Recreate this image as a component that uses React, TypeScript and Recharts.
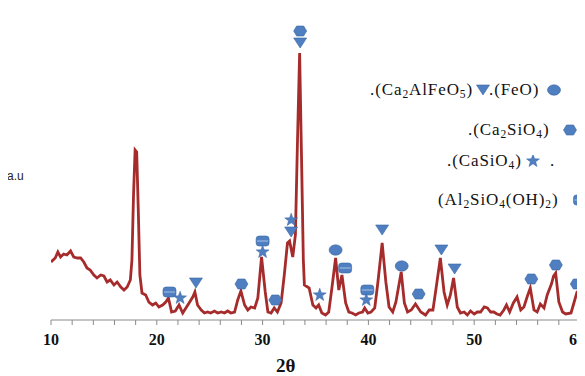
import React from 'react';
import { ComposedChart, Line, Scatter, XAxis, YAxis } from 'recharts';

// XRD pattern (2θ in degrees, intensity in arbitrary units)
const twoTheta = [
  10.0, 10.4, 10.65, 10.9, 11.2, 11.5, 11.85, 12.15, 12.5, 12.8, 13.1, 13.4, 13.7, 14.05, 14.35, 14.7,
  15.0, 15.3, 15.6, 15.95, 16.25, 16.6, 16.9, 17.2, 17.5, 17.65, 17.8, 17.95, 18.1, 18.25, 18.4, 18.6, 18.95,
  19.25, 19.6, 19.9, 20.2, 20.55, 20.85, 21.1, 21.4, 21.75, 22.1, 22.45, 22.75, 23.05, 23.4, 23.6, 23.85,
  24.2, 24.5, 24.8, 25.1, 25.45, 25.75, 26.1, 26.4, 26.7, 27.0, 27.35, 27.65, 27.95, 28.3, 28.6, 28.9,
  29.25, 29.55, 29.9, 30.25, 30.5, 30.8, 31.1, 31.4, 31.75, 32.05, 32.35, 32.55, 32.85, 33.1, 33.3, 33.5,
  33.7, 33.85, 33.95, 34.25, 34.4, 34.75, 35.05, 35.3, 35.6, 35.95, 36.25, 36.55, 36.9, 37.2, 37.5, 37.85,
  38.15, 38.45, 38.8, 39.1, 39.45, 39.65, 39.95, 40.25, 40.6, 40.9, 41.3, 41.65, 41.95, 42.3, 42.6, 43.1,
  43.4, 43.7, 44.05, 44.45, 44.95, 45.4, 45.75, 46.1, 46.4, 46.8, 47.15, 47.45, 47.75, 48.05, 48.4, 48.7,
  49.05, 49.35, 49.65, 50.0, 50.3, 50.6, 50.95, 51.25, 51.55, 51.85, 52.15, 52.45, 52.8, 53.05, 53.35, 53.7,
  54.05, 54.4, 54.7, 55.0, 55.3, 55.65, 55.95, 56.25, 56.6, 56.9, 57.3, 57.5, 57.7, 58.0, 58.35, 58.65,
  59.15, 59.45, 59.75,
];
const intensity = [
  58, 62, 68, 63, 66, 65, 69, 63, 62, 62, 58, 52, 50, 45, 42, 45,
  44, 38, 40, 35, 38, 33, 30, 33, 40, 60, 125, 170, 168, 110, 45, 27, 25,
  18, 15, 17, 13, 15, 18, 22, 8, 9, 15, 7, 12, 17, 23, 28, 15,
  10, 7, 8, 7, 9, 7, 8, 7, 9, 7, 8, 20, 29, 15, 10, 13,
  12, 22, 63, 28, 8, 7, 12, 8, 17, 45, 77, 79, 63, 85, 180, 267,
  150, 60, 35, 33, 32, 15, 12, 15, 7, 5, 8, 32, 62, 30, 45, 17,
  8, 7, 5, 7, 8, 12, 7, 8, 12, 38, 77, 38, 13, 8, 18, 48,
  17, 8, 10, 16, 8, 5, 10, 10, 32, 62, 28, 15, 25, 42, 13, 7,
  8, 5, 9, 6, 8, 8, 13, 12, 8, 8, 6, 5, 10, 15, 8, 17,
  23, 10, 13, 23, 32, 10, 8, 16, 12, 25, 36, 44, 47, 18, 8, 6,
  7, 18, 29,
];

// phase markers
const triangleX = [23.7, 32.7, 33.55, 41.3, 46.9, 48.15];
const triangleY = [37, 88, 277, 90, 70, 51];
const hexX = [28.0, 31.2, 33.55, 44.75, 55.4, 57.72, 59.7];
const hexY = [36, 20, 289, 26, 41, 55, 36];
const ellipseX = [36.9, 43.15];
const ellipseY = [70, 54];
const rectX = [21.2, 30.0, 37.8, 39.9];
const rectY = [28, 79, 52, 30];
const starX = [22.2, 30.0, 32.7, 35.4, 39.8];
const starY = [22, 68, 100, 25, 20];

const xTicks = [10, 12, 14, 16, 18, 20, 22, 24, 26, 28, 30, 32, 34, 36, 38, 40, 42, 44, 46, 48, 50, 52, 54, 56, 58, 60];

const pattern = twoTheta.map((x, i) => ({ x, y: intensity[i] }));
const pts = (xs: number[], ys: number[]) => xs.map((x, i) => ({ x, y: ys[i] }));

const BLUE = '#4f7fc0';
const EDGE = '#3b67a3';

const Tri = ({ cx, cy }: any) => (
  <polygon points={`${cx - 6.5},${cy - 5} ${cx + 6.5},${cy - 5} ${cx},${cy + 5}`} fill={BLUE} stroke={EDGE} strokeWidth={0.6} />
);
const Hex = ({ cx, cy }: any) => (
  <polygon
    points={`${cx - 6.5},${cy} ${cx - 3.5},${cy - 5} ${cx + 3.5},${cy - 5} ${cx + 6.5},${cy} ${cx + 3.5},${cy + 5} ${cx - 3.5},${cy + 5}`}
    fill={BLUE}
    stroke={EDGE}
    strokeWidth={0.6}
  />
);
const Ell = ({ cx, cy }: any) => <ellipse cx={cx} cy={cy} rx={6.5} ry={5.2} fill={BLUE} stroke={EDGE} strokeWidth={0.6} />;
const Box = ({ cx, cy }: any) => (
  <g>
    <rect x={cx - 6.5} y={cy - 5} width={13} height={10} rx={3} fill={BLUE} stroke={EDGE} strokeWidth={0.6} />
    <line x1={cx - 5.5} x2={cx + 5.5} y1={cy} y2={cy} stroke="#a9c3e6" strokeWidth={1} />
  </g>
);
const starPoints = (cx: number, cy: number, ro: number, ri: number) => {
  const p: string[] = [];
  for (let i = 0; i < 10; i++) {
    const r = i % 2 === 0 ? ro : ri;
    const a = -Math.PI / 2 + (i * Math.PI) / 5;
    p.push(`${cx + r * Math.cos(a)},${cy + r * Math.sin(a)}`);
  }
  return p.join(' ');
};
const Star = ({ cx, cy }: any) => <polygon points={starPoints(cx, cy, 6.8, 2.8)} fill={BLUE} stroke={EDGE} strokeWidth={0.5} />;

const XTick = ({ x, y, payload }: any) => {
  if (payload.value % 10 !== 0) return <g />;
  const last = payload.value === 60;
  return (
    <text
      x={last ? x + 5 : x}
      y={y + 18}
      textAnchor={last ? 'end' : 'middle'}
      fontFamily="Liberation Serif"
      fontWeight="bold"
      fontSize={16}
      fill="#111"
    >
      {payload.value}
    </text>
  );
};

const Icon = ({ children }: any) => (
  <svg width={14} height={12} style={{ display: 'block' }}>
    {children}
  </svg>
);

const serif: React.CSSProperties = {
  position: 'absolute',
  fontFamily: 'Liberation Serif',
  fontSize: 17,
  lineHeight: '17px',
  letterSpacing: 0.9,
  whiteSpace: 'nowrap',
  color: '#111',
};
const sub = (s: string) => <span style={{ fontSize: 11.5, position: 'relative', top: 3 }}>{s}</span>;
const at = (left: number, cy: number): React.CSSProperties => ({ ...serif, left: left - 8, top: cy - 8 - 9 });
const iconAt = (cx: number, cy: number): React.CSSProperties => ({ position: 'absolute', left: cx - 8 - 7, top: cy - 8 - 6 });

export default function App() {
  return (
    <div style={{ position: 'relative', width: 577, height: 368, overflow: 'hidden', background: '#fff' }}>
      <ComposedChart width={577} height={368} margin={{ top: 2, right: 5, bottom: 0, left: 43 }}>
        <XAxis
          type="number"
          dataKey="x"
          domain={[10, 60]}
          ticks={xTicks}
          interval={0}
          tick={<XTick />}
          tickSize={5}
          tickMargin={2}
          height={56}
          stroke="#8a8a8a"
          allowDataOverflow
        />
        <YAxis
          type="number"
          dataKey="y"
          domain={[0, 310]}
          ticks={[310]}
          tick={false}
          mirror
          tickSize={4}
          width={0}
          stroke="#8a8a8a"
          allowDataOverflow
        />
        <Line data={pattern} dataKey="y" type="linear" stroke="#a62b2b" strokeWidth={2.8} dot={false} isAnimationActive={false} />
        <Scatter data={pts(triangleX, triangleY)} dataKey="y" shape={<Tri />} isAnimationActive={false} />
        <Scatter data={pts(hexX, hexY)} dataKey="y" shape={<Hex />} isAnimationActive={false} />
        <Scatter data={pts(ellipseX, ellipseY)} dataKey="y" shape={<Ell />} isAnimationActive={false} />
        <Scatter data={pts(rectX, rectY)} dataKey="y" shape={<Box />} isAnimationActive={false} />
        <Scatter data={pts(starX, starY)} dataKey="y" shape={<Star />} isAnimationActive={false} />
      </ComposedChart>

      <div style={{ position: 'absolute', left: 7 - 8, top: 176 - 8 - 7, fontFamily: 'Liberation Sans', fontSize: 12, lineHeight: '14px', color: '#222' }}>
        a.u
      </div>
      <div style={{ position: 'absolute', left: 276 - 8, top: 366 - 8 - 10, fontFamily: 'Liberation Serif', fontWeight: 'bold', fontSize: 19, lineHeight: '20px', color: '#111' }}>
        2θ
      </div>

      <div style={at(370, 90)}>.(Ca{sub('2')}AlFeO{sub('5')})</div>
      <div style={iconAt(483, 90)}><Icon><Tri cx={7} cy={6} /></Icon></div>
      <div style={at(489, 90)}>.(FeO)</div>
      <div style={iconAt(554, 90)}><Icon><Ell cx={7} cy={6} /></Icon></div>

      <div style={at(468, 130)}>.(Ca{sub('2')}SiO{sub('4')})</div>
      <div style={iconAt(570, 130)}><Icon><Hex cx={7} cy={6} /></Icon></div>

      <div style={at(447, 161)}>.(CaSiO{sub('4')})</div>
      <div style={iconAt(533, 161)}><Icon><Star cx={7} cy={6} /></Icon></div>
      <div style={at(550, 161)}>.</div>

      <div style={at(438, 200)}>(Al{sub('2')}SiO{sub('4')}(OH){sub('2')})</div>
      <div style={iconAt(580, 200)}><Icon><Box cx={7} cy={6} /></Icon></div>
    </div>
  );
}
